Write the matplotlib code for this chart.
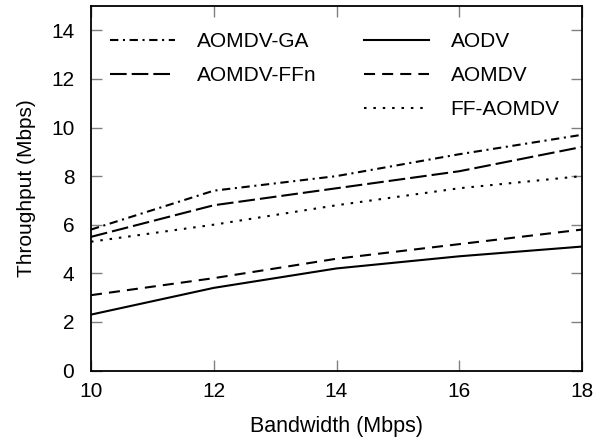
import matplotlib
matplotlib.use("Agg")
import matplotlib.pyplot as plt
from matplotlib.lines import Line2D

plt.rcParams['font.family'] = ['Liberation Sans', 'DejaVu Sans']

bandwidth = [10, 12, 14, 16, 18]
aomdv_ga = [5.8, 7.4, 8.0, 8.9, 9.7]
aomdv_ffn = [5.5, 6.8, 7.5, 8.2, 9.2]
ff_aomdv = [5.3, 6.0, 6.8, 7.5, 8.0]
aomdv = [3.1, 3.8, 4.6, 5.2, 5.8]
aodv = [2.3, 3.4, 4.2, 4.7, 5.1]

W, H = 613, 443
fig = plt.figure(figsize=(W / 100, H / 100), dpi=100)
ax = fig.add_axes([91 / W, 1 - 370.5 / H, (582 - 91) / W, (370.5 - 6) / H])

lw = 1.5
l_ga, = ax.plot(bandwidth, aomdv_ga, color='black', lw=lw, dashes=(4, 2.2, 1, 2.2))
l_ffn, = ax.plot(bandwidth, aomdv_ffn, color='black', lw=lw, dashes=(8, 2.4))
l_ff, = ax.plot(bandwidth, ff_aomdv, color='black', lw=lw, dashes=(1.2, 3.3))
l_aomdv, = ax.plot(bandwidth, aomdv, color='black', lw=lw, dashes=(5.3, 3.4))
l_aodv, = ax.plot(bandwidth, aodv, color='black', lw=lw)

# blank slot so the first column has two entries, the second three
blank = Line2D([], [], color='none')
ax.legend([l_ga, l_ffn, blank, l_aodv, l_aomdv, l_ff],
          ['AOMDV-GA', 'AOMDV-FFn', '', 'AODV', 'AOMDV', 'FF-AOMDV'],
          ncol=2, frameon=False, fontsize=15, handlelength=3.1,
          loc='upper left', bbox_to_anchor=(110 / W, 1 - 32 / H),
          bbox_transform=fig.transFigure, borderpad=0, borderaxespad=0,
          columnspacing=2.3, labelspacing=0.72, handletextpad=1.05)

ax.set_xlim(10, 18)
ax.set_ylim(0, 15)
ax.set_xticks([10, 12, 14, 16, 18])
ax.set_yticks(range(0, 15, 2))
ax.tick_params(direction='in', length=8, width=1, color='gray', labelsize=15,
               top=True, right=True)
ax.tick_params(axis='x', pad=8)
ax.tick_params(axis='y', pad=12)
for s in ax.spines.values():
    s.set_linewidth(1.3)

ax.set_xlabel('Bandwidth (Mbps)', fontsize=15.5, labelpad=11)
ax.set_ylabel('Throughput (Mbps)', fontsize=15, labelpad=11)

fig.savefig('out.png', dpi=100)
